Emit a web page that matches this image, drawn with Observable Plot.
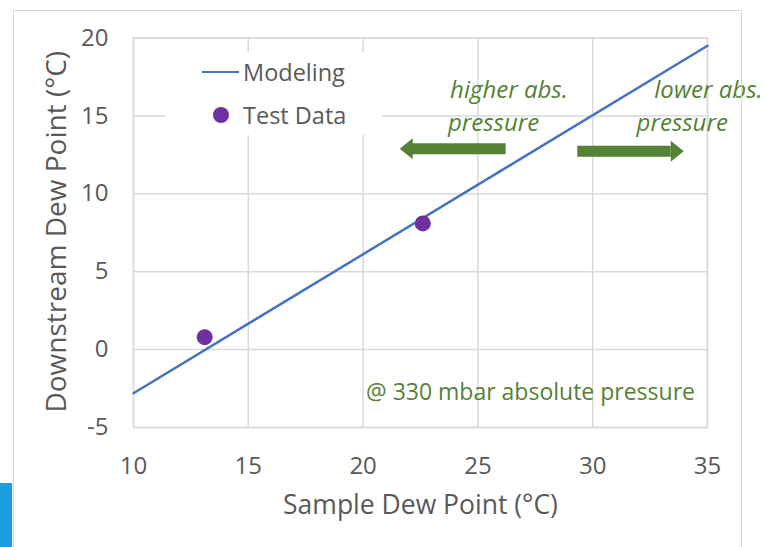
<!DOCTYPE html>
<html>
<head>
<meta charset="utf-8">
<script src="https://cdn.jsdelivr.net/npm/d3@7"></script>
<script src="https://cdn.jsdelivr.net/npm/@observablehq/plot@0.6"></script>
<style>
  html, body { margin: 0; padding: 0; background: #fff; }
  #wrap { position: relative; width: 765px; height: 547px; overflow: hidden; font-family: "Open Sans", sans-serif; }
  #wrap svg { position: absolute; left: 0; top: 0; background: transparent; }
  .border { position: absolute; left: 13px; top: 10px; width: 729px; height: 600px; border: 1.5px solid #d9d9d9; box-sizing: border-box; }
  .sidebar { position: absolute; left: 0; top: 483px; width: 12px; height: 64px; background: #1d9be3; }
  .legend { position: absolute; left: 165px; top: 52px; width: 217px; height: 83px; background: #fff; color: #595959; font-size: 23.5px; }
  .legend .row { position: absolute; left: 0; height: 30px; line-height: 30px; }
  .legend .swatch-line { position: absolute; left: 37px; top: 14px; width: 37px; height: 0; border-top: 2.5px solid #4472C4; }
  .legend .swatch-dot { position: absolute; left: 48px; top: 7px; width: 16px; height: 16px; border-radius: 50%; background: #7030A0; }
  .legend .label { position: absolute; left: 78px; top: 0; white-space: nowrap; }
</style>
</head>
<body>
<div id="wrap">
  <div class="border"></div>
  <div class="sidebar"></div>
</div>
<script>
// Modeled line (sample dew point -> downstream dew point)
const modelX = [10, 35];
const modelY = [-2.8, 19.5];

// Measured test points
const testX = [13.1, 22.6];
const testY = [0.8, 8.1];

// Axis ticks
const xTicks = [10, 15, 20, 25, 30, 35];
const yTicks = [-5, 0, 5, 10, 15, 20];

// Labels
const xTitle = "Sample Dew Point (°C)";
const yTitle = "Downstream Dew Point (°C)";
const legendNames = ["Modeling", "Test Data"];
const noteText = "@ 330 mbar absolute pressure";

// Annotation positions (in data units)
const notes = [
  {text: "higher abs.", x: 26.35, y: 16.62},
  {text: "pressure", x: 25.68, y: 14.5},
  {text: "lower abs.", x: 35.04, y: 16.62},
  {text: "pressure", x: 33.9, y: 14.5}
];
const arrows = [
  {tail: 26.23, base: 22.14, y: 12.89, dir: -1},
  {tail: 29.35, base: 33.42, y: 12.73, dir: 1}
];

const model = modelX.map((x, i) => ({x, y: modelY[i]}));
const tests = testX.map((x, i) => ({x, y: testY[i]}));

const green = "#548235";
const grey = "#595959";
const gridColor = "#d9d9d9";

// Flat triangular arrowheads, drawn from the head base outward
const headLeft = {draw(ctx) { ctx.moveTo(0.5, -10.5); ctx.lineTo(-12.5, 0); ctx.lineTo(0.5, 10.5); ctx.closePath(); }};
const headRight = {draw(ctx) { ctx.moveTo(-0.5, -10.5); ctx.lineTo(12.5, 0); ctx.lineTo(-0.5, 10.5); ctx.closePath(); }};

const chart = Plot.plot({
  width: 765,
  height: 547,
  marginLeft: 133,
  marginRight: 58,
  marginTop: 37.5,
  marginBottom: 120,
  style: {fontFamily: "Open Sans, sans-serif", background: "transparent"},
  x: {domain: [10, 35], ticks: xTicks},
  y: {domain: [-5, 20], ticks: yTicks},
  marks: [
    Plot.gridX(xTicks, {stroke: gridColor, strokeOpacity: 1, strokeWidth: 1.5}),
    Plot.gridY(yTicks, {stroke: gridColor, strokeOpacity: 1, strokeWidth: 1.5}),
    Plot.frame({stroke: gridColor, strokeWidth: 1.5}),
    Plot.axisX(xTicks, {tickSize: 0, tickPadding: 29, fontSize: 24, fill: grey, label: null, tickFormat: d => String(d)}),
    Plot.axisY(yTicks, {tickSize: 0, tickPadding: 25, fontSize: 24, fill: grey, label: null, tickFormat: d => String(d)}),
    Plot.text([xTitle], {frameAnchor: "bottom", dy: 78, lineAnchor: "middle", fontSize: 26.5, fill: grey, text: d => d}),
    Plot.text([yTitle], {frameAnchor: "left", dx: -76, dy: -1, rotate: -90, textAnchor: "middle", lineAnchor: "middle", fontSize: 28, fill: grey, text: d => d}),
    Plot.line(model, {x: "x", y: "y", stroke: "#4472C4", strokeWidth: 2.5}),
    Plot.dot(tests, {x: "x", y: "y", r: 8, fill: "#7030A0", stroke: null}),
    Plot.text(notes, {x: "x", y: "y", text: "text", fontSize: 24, fontStyle: "italic", fill: green, lineAnchor: "middle"}),
    Plot.ruleY(arrows, {y: "y", x1: "tail", x2: "base", stroke: green, strokeWidth: 11}),
    Plot.dot(arrows.filter(a => a.dir < 0), {x: "base", y: "y", symbol: headLeft, fill: green, stroke: null}),
    Plot.dot(arrows.filter(a => a.dir > 0), {x: "base", y: "y", symbol: headRight, fill: green, stroke: null}),
    Plot.text([noteText], {frameAnchor: "bottom", dy: -35, dx: 110, lineAnchor: "middle", fontSize: 23, fill: green, text: d => d})
  ]
});

const wrap = document.getElementById("wrap");
wrap.insertBefore(chart, wrap.firstChild);

// Legend box over the plot's upper-left corner
const legend = document.createElement("div");
legend.className = "legend";
legend.innerHTML = `
  <div class="row" style="top:5px"><div class="swatch-line"></div><div class="label">${legendNames[0]}</div></div>
  <div class="row" style="top:48px"><div class="swatch-dot"></div><div class="label">${legendNames[1]}</div></div>`;
wrap.appendChild(legend);
</script>
</body>
</html>
